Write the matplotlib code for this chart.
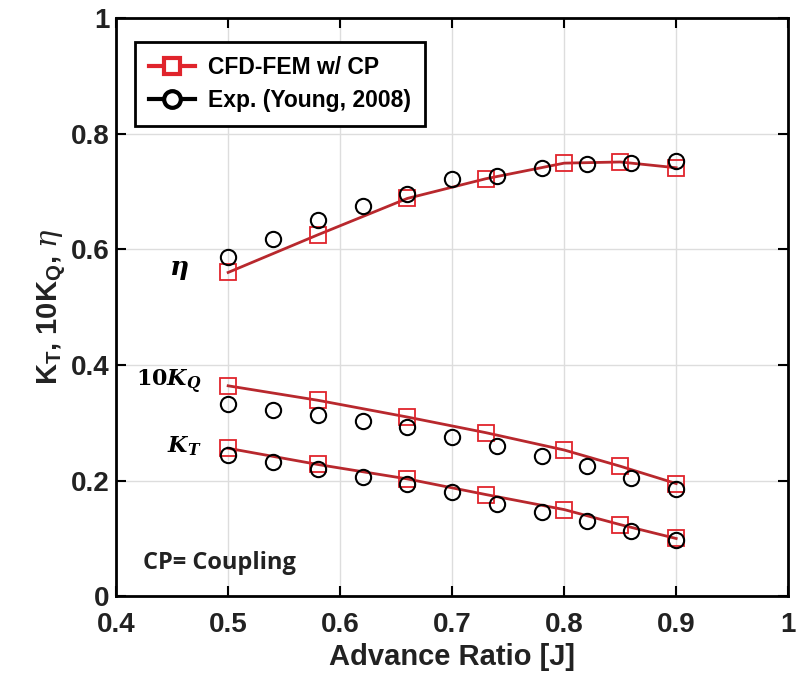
import numpy as np
import matplotlib
matplotlib.use('Agg')
import matplotlib.pyplot as plt
from matplotlib.lines import Line2D

plt.rcParams['font.family'] = ['Liberation Sans', 'DejaVu Sans']
plt.rcParams['mathtext.fontset'] = 'dejavuserif'

# CFD-FEM w/ CP
J_cfd = [0.50, 0.58, 0.66, 0.73, 0.80, 0.85, 0.90]
eta_cfd = [0.560, 0.625, 0.688, 0.722, 0.749, 0.751, 0.741]
kq_cfd = [0.364, 0.339, 0.310, 0.283, 0.253, 0.225, 0.195]
kt_cfd = [0.256, 0.228, 0.203, 0.176, 0.150, 0.124, 0.100]

# Exp. (Young, 2008)
J_exp = [0.50, 0.54, 0.58, 0.62, 0.66, 0.70, 0.74, 0.78, 0.82, 0.86, 0.90]
eta_exp = [0.587, 0.618, 0.650, 0.675, 0.695, 0.722, 0.726, 0.740, 0.748, 0.750, 0.752]
kq_exp = [0.333, 0.323, 0.313, 0.303, 0.292, 0.275, 0.260, 0.243, 0.225, 0.205, 0.185]
kt_exp = [0.245, 0.232, 0.220, 0.207, 0.195, 0.180, 0.160, 0.145, 0.130, 0.113, 0.098]

line_red = '#b8282d'
mark_red = '#e0242c'
dark = '#222222'

fig = plt.figure(figsize=(8.01, 6.91), dpi=100)
ax = fig.add_axes([0.145, 0.137, 0.839, 0.837])

for yc, ye in [(eta_cfd, eta_exp), (kq_cfd, kq_exp), (kt_cfd, kt_exp)]:
    ax.plot(J_cfd, yc, color=line_red, lw=2, marker='s', ms=12, mfc='none',
            mec=mark_red, mew=1.3, zorder=3)
    ax.plot(J_exp, ye, ls='none', marker='o', ms=11, mfc='none', mec='black',
            mew=1.5, zorder=4)

ax.set_xlim(0.4, 1.0)
ax.set_ylim(0, 1.0)
ax.set_xticks([0.4, 0.5, 0.6, 0.7, 0.8, 0.9, 1.0])
ax.set_xticklabels(['0.4', '0.5', '0.6', '0.7', '0.8', '0.9', '1'])
ax.set_yticks([0, 0.2, 0.4, 0.6, 0.8, 1.0])
ax.set_yticklabels(['0', '0.2', '0.4', '0.6', '0.8', '1'])
ax.grid(True, color='#dddddd', lw=1)
ax.set_axisbelow(True)
ax.tick_params(direction='in', length=7, width=1.5, labelsize=20, top=True, right=True)
ax.tick_params(axis='x', pad=11)
ax.tick_params(axis='y', pad=5)
for lab in ax.get_xticklabels() + ax.get_yticklabels():
    lab.set_fontweight('bold')
    lab.set_color(dark)
for s in ax.spines.values():
    s.set_linewidth(2)

ax.set_xlabel('Advance Ratio [J]', fontsize=21, fontweight='bold', color=dark, labelpad=4)
ax.set_ylabel(r'K$_\mathregular{T}$, 10K$_\mathregular{Q}$, $\eta$', fontsize=21,
              fontweight='bold', color=dark, labelpad=2)

ax.text(0.456, 0.565, r'$\mathbfit{\eta}$', fontsize=19, ha='center', va='center')
ax.text(0.447, 0.37, r'$\mathbf{10}\mathbfit{K}_{\mathbfit{Q}}$', fontsize=16,
        ha='center', va='center')
ax.text(0.461, 0.26, r'$\mathbfit{K}_{\mathbfit{T}}$', fontsize=16, ha='center', va='center')
ax.text(0.424, 0.057, 'CP= Coupling', fontsize=17, fontweight='bold', family='Open Sans',
        ha='left', va='center', color=dark)

handles = [Line2D([], [], color=mark_red, lw=3, marker='s', ms=12, mfc='white',
                  mec=mark_red, mew=3),
           Line2D([], [], color='black', lw=3, marker='o', ms=12, mfc='white',
                  mec='black', mew=3)]
leg = ax.legend(handles, ['CFD-FEM w/ CP', 'Exp. (Young, 2008)'], loc='upper left',
                bbox_to_anchor=(0.028, 0.958), borderaxespad=0, fancybox=False,
                edgecolor='black', framealpha=1, prop={'weight': 'bold', 'size': 16.5},
                handlelength=2.0, borderpad=0.6, labelspacing=0.45, handletextpad=0.6)
leg.get_frame().set_linewidth(2)

fig.savefig('out.png', dpi=100)
